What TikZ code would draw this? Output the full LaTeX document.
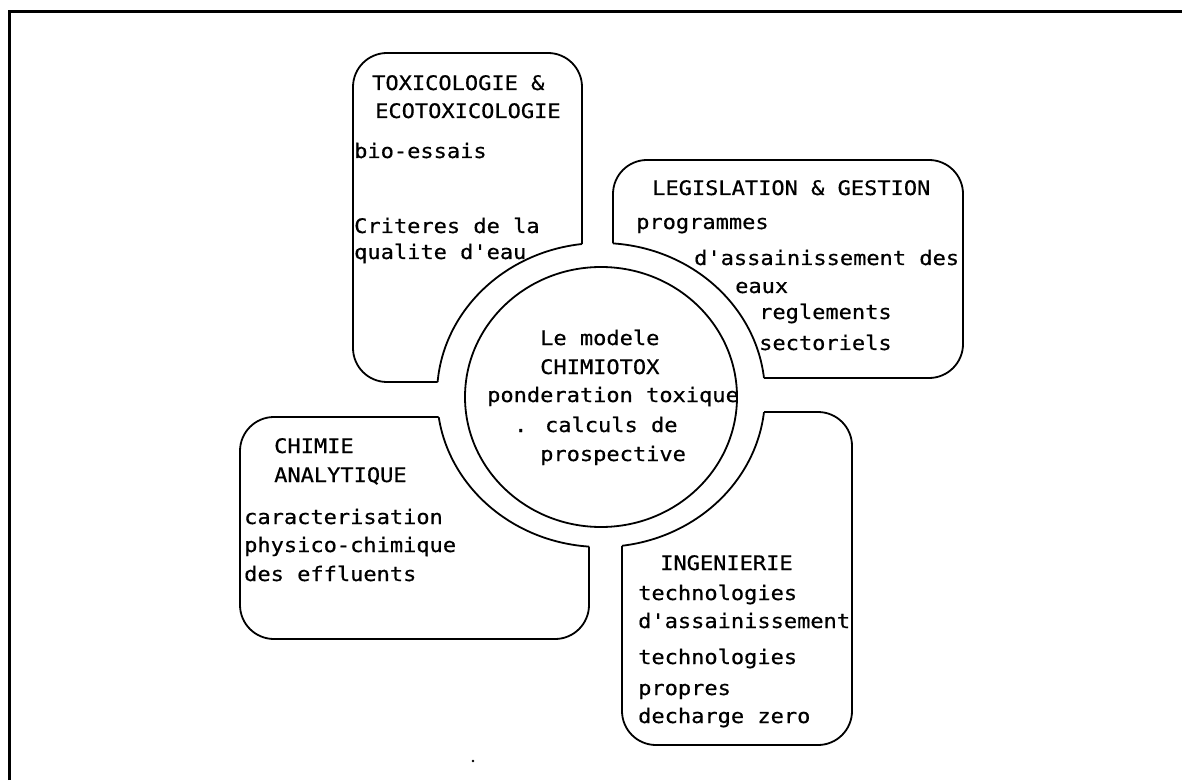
\documentclass[tikz,border=0pt]{standalone}
\usepackage{fontspec}
\usetikzlibrary{shapes.geometric}
\newfontfamily\diagmono[FakeStretch=1.1,FakeBold=0.6]{DejaVu Sans Mono}
\begin{document}
\begin{tikzpicture}[x=1pt,y=1pt,
  boxline/.style={line width=1.8pt, rounded corners=34pt},
  ringline/.style={line width=1.8pt},
  frameline/.style={line width=3pt},
  txt/.style={anchor=base west, inner sep=0pt, font=\diagmono\fontsize{20}{24}\selectfont}]
\useasboundingbox (0,0) rectangle (1182,780);
% frame
\coordinate (ftl) at (9,768);
\coordinate (ftr) at (1182,768);
\coordinate (fbl) at (9,0);
\draw[frameline] (fbl) -- (ftl) -- (ftr);
% boxes clipped outside the outer ring
\begin{scope}[even odd rule]
  \clip (0,0) rectangle (1182,780) (601,385) ellipse [x radius=164, y radius=152];
  \draw[boxline] (353,727) rectangle (582,398);
  \draw[boxline] (613,620) rectangle (963,402);
  \draw[boxline] (240,363) rectangle (589,141);
  \draw[boxline] (622,368) rectangle (852,35);
\end{scope}
% concave edges of the boxes (outer ring)
\begin{scope}
  \clip (353,727) rectangle (582,398)
        (613,620) rectangle (963,402)
        (240,363) rectangle (589,141)
        (622,368) rectangle (852,35);
  \draw[ringline] (601,385) ellipse [x radius=164, y radius=152];
\end{scope}
% inner circle
\node[draw, ringline, ellipse, minimum width=272pt, minimum height=260pt, inner sep=0pt] (core) at (601,383) {};
\fill (473,19) circle[radius=1.3pt];
% texts: toxicologie
\node[txt] (t1) at (372,690) {TOXICOLOGIE \&};
\node[txt] (t2) at (375,662) {ECOTOXICOLOGIE};
\node[txt] (t3) at (354,622) {bio-essais};
\node[txt] (t4) at (354,547) {Criteres de la};
\node[txt] (t5) at (354,521) {qualite d'eau};
% legislation
\node[txt] (l1) at (652,585) {LEGISLATION \& GESTION};
\node[txt] (l2) at (636,551) {programmes};
\node[txt] (l3) at (694,515) {d'assainissement des};
\node[txt] (l4) at (735,487) {eaux};
\node[txt] (l5) at (759,461) {reglements};
\node[txt] (l6) at (759,430) {sectoriels};
% centre
\node[txt] (c1) at (540,435) {Le modele};
\node[txt] (c2) at (540,406) {CHIMIOTOX};
\node[txt] (c3) at (487,378) {ponderation toxique};
\node[txt] (c4) at (514,348) {. calculs de};
\node[txt] (c5) at (540,319) {prospective};
% chimie
\node[txt] (a1) at (274,327) {CHIMIE};
\node[txt] (a2) at (274,298) {ANALYTIQUE};
\node[txt] (a3) at (244,256) {caracterisation};
\node[txt] (a4) at (244,228) {physico-chimique};
\node[txt] (a5) at (244,199) {des effluents};
% ingenierie
\node[txt] (i1) at (660,210) {INGENIERIE};
\node[txt] (i2) at (638,180) {technologies};
\node[txt] (i3) at (638,152) {d'assainissement};
\node[txt] (i4) at (638,116) {technologies};
\node[txt] (i5) at (638,85) {propres};
\node[txt] (i6) at (638,57) {decharge zero};
\end{tikzpicture}
\end{document}
